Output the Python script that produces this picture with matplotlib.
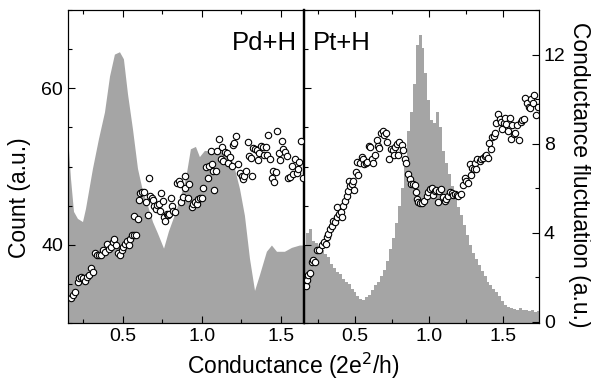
import numpy as np
import matplotlib
matplotlib.use("Agg")
import matplotlib.pyplot as plt
from matplotlib.ticker import MultipleLocator

plt.rcParams['font.family'] = ['Liberation Sans', 'DejaVu Sans']

# ---- Pd+H histogram (conductance, count)
pd_g = [0.152, 0.171, 0.190, 0.215, 0.247, 0.266, 0.310, 0.348, 0.386, 0.418, 0.449, 0.481,
        0.506, 0.532, 0.563, 0.595, 0.627, 0.658, 0.690, 0.722, 0.760, 0.791, 0.836, 0.867,
        0.899, 0.930, 0.962, 0.987, 1.019, 1.082, 1.146, 1.184, 1.209, 1.241, 1.272, 1.304,
        1.336, 1.367, 1.411, 1.443, 1.475, 1.525, 1.570, 1.620, 1.650]
pd_count = [53.9, 48.4, 44.2, 43.3, 42.9, 44.6, 49.7, 53.5, 56.9, 61.5, 64.3, 64.6,
            63.7, 59.2, 54.8, 49.7, 46.8, 45.0, 42.9, 41.4, 39.5, 41.7, 44.2, 46.2,
            48.4, 52.2, 52.5, 51.2, 52.0, 51.8, 51.8, 51.2, 49.7, 47.1, 43.7, 38.2,
            34.1, 36.1, 39.1, 39.9, 39.1, 39.1, 39.6, 39.9, 39.9]

# ---- Pt+H histogram, bins of 0.02 from 0.15 to 1.75
pt_edges = np.round(np.arange(0.15, 1.7501, 0.02), 3)
pt_count = [40.0, 41.5, 42.0, 40.5, 40.2, 39.8, 39.3, 38.8, 38.4, 37.6,
            37.0, 36.5, 36.3, 35.6, 35.2, 35.0, 34.4, 34.0, 33.4, 33.1,
            33.0, 33.3, 33.6, 34.2, 34.8, 35.3, 36.0, 36.8, 37.9, 39.4,
            40.8, 42.8, 45.0, 47.2, 50.0, 54.5, 57.0, 60.5, 65.5, 66.8,
            65.2, 62.0, 58.5, 56.0, 55.5, 57.0, 55.0, 52.0, 50.5, 49.0,
            47.5, 46.0, 44.8, 43.8, 42.5, 41.3, 40.0, 39.0, 38.2, 37.4,
            36.7, 36.0, 35.3, 34.8, 34.3, 34.0, 33.4, 32.8, 32.3, 32.0,
            31.9, 31.8, 31.7, 31.9, 31.6, 31.7, 31.5, 31.6, 31.4, 31.5]

# ---- conductance fluctuation, Pd+H
pd_fg = [0.171, 0.186, 0.198, 0.213, 0.224, 0.234, 0.249, 0.262, 0.270, 0.283, 0.298, 0.312,
         0.325, 0.336, 0.346, 0.363, 0.372, 0.388, 0.397, 0.410, 0.424, 0.435, 0.445, 0.456,
         0.467, 0.481, 0.494, 0.502, 0.511, 0.524, 0.536, 0.544, 0.557, 0.572, 0.582, 0.572,
         0.593, 0.599, 0.608, 0.620, 0.635, 0.646, 0.656, 0.663, 0.671, 0.684, 0.692, 0.698,
         0.709, 0.717, 0.726, 0.734, 0.743, 0.751, 0.760, 0.768, 0.777, 0.785, 0.793, 0.804,
         0.810, 0.819, 0.831, 0.840, 0.853, 0.861, 0.869, 0.878, 0.891, 0.894,
         0.914, 0.920, 0.935, 0.945, 0.956, 0.966, 0.977, 0.988, 0.998, 1.009, 1.026, 1.040,
         1.047, 1.055, 1.061, 1.072, 1.078, 1.089, 1.097, 1.110, 1.118, 1.125, 1.135, 1.146,
         1.156, 1.167, 1.177, 1.188, 1.194, 1.203, 1.215, 1.230, 1.241, 1.251, 1.258, 1.266,
         1.279, 1.289, 1.300, 1.308, 1.319, 1.325, 1.336, 1.346, 1.357, 1.363, 1.372, 1.384,
         1.393, 1.405, 1.414, 1.420, 1.431, 1.441, 1.452, 1.458, 1.467, 1.477, 1.488, 1.494,
         1.504, 1.515, 1.526, 1.536, 1.547, 1.557, 1.568, 1.578, 1.589, 1.599, 1.610, 1.616,
         1.625, 1.637]
pd_fluct = [1.07, 1.21, 1.36, 1.81, 1.96, 2.03, 1.96, 1.84, 2.03, 2.10, 2.40, 2.22,
            3.07, 2.99, 2.99, 2.99, 3.21, 3.14, 3.51, 3.29, 3.36, 3.59, 3.73, 3.44,
            3.07, 2.99, 3.21, 3.36, 3.51, 3.61, 3.44, 3.73, 3.91, 3.91, 3.91, 4.77,
            4.62, 5.48, 5.78, 5.81, 5.84, 5.36, 4.80, 6.47, 5.63, 5.54, 5.48, 5.21,
            5.07, 5.24, 5.29, 4.99, 5.78, 5.44, 4.70, 4.55, 4.84, 4.80, 4.84, 5.54,
            5.19, 4.99, 4.92, 6.25, 6.33, 6.18, 5.36, 5.59, 6.55, 6.03,
            5.58, 6.18, 5.14, 5.29, 5.36, 5.29, 5.51, 5.58, 5.58, 6.03, 6.96, 6.47,
            6.99, 7.66, 7.07, 6.77, 5.93, 6.77, 7.66, 8.21, 7.32, 7.85, 7.21, 7.61,
            7.58, 7.14, 7.41, 6.99, 7.96, 8.03, 8.33, 7.07, 6.70, 6.55, 6.40, 6.55,
            6.77, 8.06, 7.44, 7.36, 6.55, 7.81, 7.76, 7.73, 7.26, 7.58, 7.88, 7.85,
            7.51, 7.85, 7.47, 8.40, 7.32, 6.47, 6.77, 6.28, 6.73, 8.55, 7.58, 7.26,
            8.13, 7.76, 7.61, 7.44, 6.47, 6.50, 6.99, 6.62, 7.32, 6.70, 6.87, 7.17,
            8.10, 6.47]

# ---- conductance fluctuation, Pt+H
pt_fg = [0.169, 0.178, 0.184, 0.196, 0.207, 0.218, 0.229, 0.245, 0.259, 0.274, 0.290, 0.304,
         0.308, 0.319, 0.331, 0.342, 0.353, 0.364, 0.376, 0.380, 0.394, 0.403, 0.410, 0.416,
         0.432, 0.443, 0.455, 0.461, 0.466, 0.477, 0.484, 0.495, 0.506, 0.511, 0.522, 0.533,
         0.545, 0.551, 0.560, 0.574, 0.583, 0.592, 0.601, 0.612, 0.623, 0.635, 0.646, 0.657,
         0.664, 0.673, 0.687, 0.696, 0.709, 0.718, 0.732, 0.741, 0.754, 0.763, 0.770, 0.781,
         0.792, 0.799, 0.815, 0.822, 0.837, 0.844, 0.860, 0.871, 0.882, 0.894, 0.905, 0.912,
         0.921, 0.928, 0.939, 0.955, 0.968, 0.984, 0.995, 1.006, 1.018, 1.029, 1.040, 1.051,
         1.063, 1.067, 1.081, 1.096, 1.108, 1.119, 1.130, 1.141, 1.153, 1.164, 1.175, 1.187,
         1.198, 1.216, 1.232, 1.243, 1.254, 1.265, 1.277, 1.288, 1.292, 1.306, 1.310, 1.322,
         1.328, 1.344, 1.355, 1.367, 1.378, 1.389, 1.400, 1.405, 1.419, 1.428, 1.441, 1.446,
         1.457, 1.468, 1.479, 1.491, 1.495, 1.509, 1.513, 1.524, 1.536, 1.547, 1.554, 1.563,
         1.576, 1.585, 1.594, 1.608, 1.621, 1.630, 1.644, 1.653, 1.666, 1.675, 1.682, 1.693,
         1.705, 1.711, 1.727, 1.738]
pt_fluct = [1.59, 1.88, 2.10, 2.18, 2.70, 2.77, 2.70, 3.21, 3.24, 3.44, 3.59, 3.51,
            3.81, 3.96, 4.18, 4.30, 4.55, 4.47, 4.70, 5.14, 4.84, 4.92, 4.70, 5.19,
            5.44, 5.66, 5.88, 6.33, 6.10, 6.18, 6.33, 5.93, 6.73, 7.17, 6.58, 7.14,
            7.41, 7.29, 7.07, 7.14, 7.17, 7.88, 7.85, 7.29, 7.14, 7.51, 8.18, 7.88,
            7.81, 8.47, 8.55, 8.40, 8.50, 8.06, 7.32, 7.76, 7.70, 7.51, 7.85, 8.00,
            7.51, 8.06, 7.96, 7.73, 7.32, 7.14, 6.62, 6.43, 6.18, 6.18, 6.13, 5.81,
            5.51, 5.36, 5.33, 5.33, 5.44, 5.66, 5.81, 5.96, 5.99, 5.69, 5.88, 5.93,
            5.36, 5.88, 5.96, 5.59, 5.44, 5.51, 5.66, 5.84, 5.78, 5.69, 5.73, 5.69,
            5.66, 5.73, 6.13, 6.47, 6.33, 6.25, 7.07, 6.58, 6.92, 6.85, 7.14, 6.85,
            7.29, 7.22, 7.29, 7.36, 7.44, 7.51, 7.36, 8.03, 7.76, 8.30, 8.36, 8.50,
            8.92, 9.32, 9.10, 8.99, 8.65, 8.95, 9.14, 8.89, 8.59, 9.14, 8.21, 8.84,
            8.44, 8.47, 8.84, 8.15, 8.99, 9.07, 9.10, 10.03, 9.81, 9.66, 9.59, 9.99,
            9.81, 10.18, 9.29, 9.66]

gray = '#a5a5a5'
fs = 14
lab = 16.5

fig = plt.figure(figsize=(5.91, 3.80), dpi=100)
x0, xm, x1 = 68 / 591, 304 / 591, 539 / 591
y0, y1 = 1 - 323 / 380, 1 - 10 / 380
axL = fig.add_axes([x0, y0, xm - x0, y1 - y0])
axR = fig.add_axes([xm, y0, x1 - xm, y1 - y0])

# histograms
axL.fill_between(pd_g, pd_count, 0, color=gray, lw=0)
axR.stairs(pt_count, pt_edges, fill=True, color=gray, baseline=0, lw=0)

for ax in (axL, axR):
    ax.set_ylim(30, 70)
    ax.xaxis.set_major_locator(MultipleLocator(0.5))
    ax.xaxis.set_minor_locator(MultipleLocator(0.25))
    ax.yaxis.set_major_locator(MultipleLocator(20))
    ax.yaxis.set_minor_locator(MultipleLocator(5))
    ax.tick_params(which='both', direction='in', top=True, right=True, labelsize=fs)
    ax.tick_params(which='major', length=5, width=0.8)
    ax.tick_params(which='minor', length=3, width=0.8)
    ax.xaxis.set_major_formatter(plt.FormatStrFormatter('%.1f'))
    for s in ax.spines.values():
        s.set_linewidth(0.8)
axL.set_xlim(0.152, 1.646)
axR.set_xlim(0.155, 1.745)
axR.tick_params(labelleft=False)
axL.spines['right'].set_linewidth(1.6)
axR.spines['left'].set_linewidth(1.6)
axL.set_ylabel('Count (a.u.)', fontsize=lab, va='center')
axL.yaxis.set_label_coords((19 - 68) / 236, 0.40)

# fluctuation scatter on twin axes
axL2 = axL.twinx()
axR2 = axR.twinx()
for ax2 in (axL2, axR2):
    ax2.set_ylim(-0.05, 14)
axL2.tick_params(right=False, labelright=False)
axR2.yaxis.set_major_locator(MultipleLocator(4))
axR2.yaxis.set_minor_locator(MultipleLocator(2))
axR2.tick_params(which='both', direction='in', labelsize=fs)
axR2.tick_params(which='major', length=5, width=0.8)
axR2.tick_params(which='minor', length=3, width=0.8)
axR2.set_ylabel('Conductance fluctuation (a.u.)', fontsize=lab, rotation=-90, va='center')
axR2.yaxis.set_label_coords((580 - 304) / 235, (323 - 175) / 313)

mk = dict(marker='o', ls='none', ms=4.6, mfc='white', mec='black', mew=0.8)
axL2.plot(pd_fg, pd_fluct, clip_on=True, **mk)
axR2.plot(pt_fg, pt_fluct, clip_on=True, **mk)

axL.text(0.970, 0.895, 'Pd+H', transform=axL.transAxes, ha='right', va='center', fontsize=18.5)
axR.text(0.038, 0.895, 'Pt+H', transform=axR.transAxes, ha='left', va='center', fontsize=18.5)

fig.text(293 / 591, 1 - 366 / 380, 'Conductance (2e$^2$/h)', ha='center', va='center',
         fontsize=lab)

fig.savefig('out.png', dpi=100)
